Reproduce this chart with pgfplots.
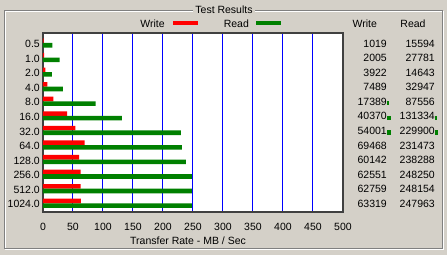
\documentclass[border=0pt]{standalone}
\usepackage{pgfplots}
\pgfplotsset{compat=1.18}
\usepackage{pgfplotstable}
\usepackage{fontspec}
\setmainfont{Liberation Sans}

\definecolor{winbg}{RGB}{212,208,200}
\definecolor{wingray}{RGB}{128,128,128}
\definecolor{wred}{RGB}{255,0,0}
\definecolor{wgreen}{RGB}{0,128,0}
\definecolor{wblue}{RGB}{0,0,255}

% block size (KB), write and read rate (KB/s)
\pgfplotstableread{
row size write read
0  0.5    1019  15594
1  1.0    2005  27781
2  2.0    3922  14643
3  4.0    7489  32947
4  8.0   17389  87556
5  16.0  40370 131334
6  32.0  54001 229900
7  64.0  69468 231473
8  128.0 60142 238288
9  256.0 62551 248250
10 512.0 62759 248154
11 1024.0 63319 247963
}\results

\newcommand{\winfont}{\fontsize{10.5}{12}\selectfont}

\begin{document}
\begin{tikzpicture}[x=1pt,y=1pt,font=\winfont]
\fill[winbg] (0,0) rectangle (447,255);
\useasboundingbox (0,0) rectangle (447,255);

% group box
\draw[white, line width=1pt] (5.5,255-11.5) rectangle (443.5,255-249.5);
\draw[wingray, line width=1pt] (4.5,255-10.5) rectangle (442.5,255-248.5);
\node[fill=winbg, inner xsep=2pt, inner ysep=2pt, anchor=base] at (224,241.7) {Test Results};

\begin{axis}[
  at={(43pt,43pt)}, anchor=south west,
  width=300pt, height=179pt, scale only axis,
  xmin=0, xmax=500, ymin=-0.597, ymax=11.686,
  xtick={0,50,...,500}, ytick={0,...,11},
  yticklabels={1024.0,512.0,256.0,128.0,64.0,32.0,16.0,8.0,4.0,2.0,1.0,0.5},
  major tick length=0pt,
  xmajorgrids, major grid style={wblue, line width=1pt},
  axis background/.style={fill=white},
  axis line style={black!75, line width=1.3pt},
  tick label style={font=\winfont},
  xticklabel style={anchor=north, inner sep=0pt, yshift=-11pt},
  yticklabel style={anchor=east, inner sep=0pt, xshift=-3pt, yshift=-1pt},
  /pgf/number format/assume math mode=true,
  clip=false,
]
\addplot[xbar, bar width=4.6pt, bar shift=2.3pt, fill=wred, draw=none]
  table[x expr=\thisrow{write}/1000, y expr=11-\thisrow{row}] {\results};
\addplot[xbar, bar width=4.6pt, bar shift=-2.3pt, fill=wgreen, draw=none]
  table[x expr=\thisrow{read}/1000, y expr=11-\thisrow{row}] {\results};
% value columns on the right
\addplot[draw=none, mark=none, nodes near coords={\pgfplotspointmeta},
  point meta=explicit symbolic,
  every node near coord/.append style={anchor=east, inner sep=0pt, yshift=-0.5pt, font=\winfont}]
  table[x expr=573.3, y expr=11-\thisrow{row}, meta=write] {\results};
\addplot[draw=none, mark=none, nodes near coords={\pgfplotspointmeta},
  point meta=explicit symbolic,
  every node near coord/.append style={anchor=east, inner sep=0pt, yshift=-0.5pt, font=\winfont}]
  table[x expr=653.3, y expr=11-\thisrow{row}, meta=read] {\results};
\end{axis}

% legend and headers
\node[anchor=base] at (152.5,227) {Write};
\fill[wred] (173,255-24.7) rectangle (198,255-20.7);
\node[anchor=base] at (236.3,227) {Read};
\fill[wgreen] (256,255-24.7) rectangle (281,255-20.7);
\node[anchor=base] at (364.8,227) {Write};
\node[anchor=base] at (413,227) {Read};

% small marks left over beside some values
\fill[wgreen] (387.3,255-105) rectangle (389.3,255-100.5);
\fill[wgreen] (387.3,255-120.3) rectangle (391.3,255-115.7);
\fill[wgreen] (387.3,255-134.7) rectangle (391.3,255-130);
\fill[wgreen] (435.3,255-120.3) rectangle (437.3,255-115.7);
\fill[wgreen] (435.3,255-134.7) rectangle (437.7,255-130);

\node[anchor=base] at (188,11) {Transfer Rate - MB / Sec};
\end{tikzpicture}
\end{document}
